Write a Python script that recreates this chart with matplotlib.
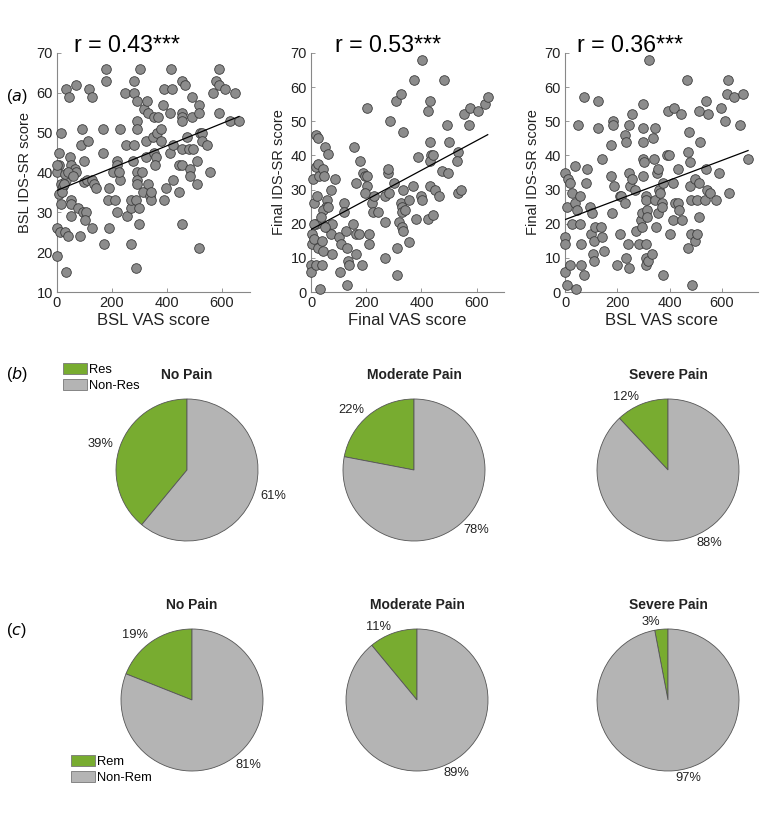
import matplotlib
matplotlib.use('Agg')
import matplotlib.pyplot as plt
import numpy as np
from matplotlib.patches import Patch

plt.rcParams['font.family'] = ['Liberation Sans', 'DejaVu Sans']

# scatter data: (VAS score, IDS-SR score)
bsl_points = [
    (16, 50), (7, 45), (7, 42), (0, 40), (0, 42), (13, 37), (7, 34.5), (13, 32), (0, 26), (12, 25),
    (28, 25), (40, 24), (1, 19), (34, 15), (32, 61), (44, 59), (68, 62), (117, 61), (129, 59), (92, 51),
    (86, 47), (114, 48), (46, 44), (52, 42), (65, 41), (68, 40), (99, 43), (97, 37.5), (109, 38), (129, 38),
    (135, 37), (141, 36), (52, 33), (52, 32), (77, 31), (95, 30), (105, 30), (101, 28), (52, 29), (83, 24),
    (129, 26), (34, 38), (22, 36.5), (28, 39.5), (20, 35), (25, 37), (40, 40), (60, 39),
    (178, 66), (178, 63), (167, 51), (167, 45), (190, 36), (184, 33), (190, 26), (172, 22), (211, 33), (219, 30),
    (229, 51), (217, 43), (217, 42), (205, 40), (229, 38), (225, 40), (247, 60), (253, 47), (256, 29), (271, 31),
    (269, 22), (271, 33), (277, 43), (281, 47), (281, 63), (281, 60), (292, 58), (290, 53), (293, 51), (290, 40),
    (292, 38), (292, 37), (288, 33), (299, 31), (299, 27), (288, 16), (304, 66), (311, 40), (314, 35), (316, 56),
    (328, 58), (330, 55), (326, 48), (326, 44), (331, 37), (337, 34), (344, 33), (344, 35), (355, 54), (368, 54),
    (350, 49), (363, 50), (353, 45), (359, 44), (356, 42), (379, 51), (379, 48), (389, 61), (387, 57), (391, 33),
    (397, 36), (411, 55), (411, 45), (416, 66), (420, 61), (421, 47), (423, 38), (444, 35), (445, 42), (454, 42),
    (456, 63), (466, 62), (454, 55), (454, 54), (454, 53), (456, 27), (457, 46), (475, 49), (482, 46), (490, 59),
    (493, 54), (484, 41), (484, 39), (494, 46), (511, 43), (516, 57), (518, 55), (511, 37), (518, 21), (521, 50),
    (529, 50), (529, 48), (548, 47), (557, 40), (567, 60), (578, 63), (590, 66), (590, 62), (590, 55), (613, 61),
    (647, 60), (630, 53), (663, 53),
]

final_points = [
    (17, 46), (27, 45), (8, 33), (17, 36.5), (24, 37.5), (29, 34), (45, 36), (47, 34), (51, 42.5), (61, 40.5),
    (11, 26), (18, 20), (5, 17), (2, 14), (11, 15.5), (27, 13), (39, 15), (45, 12), (0, 8), (0, 6),
    (17, 8), (39, 8), (33, 1), (57, 27), (54, 25), (42, 24), (63, 25), (72, 30), (87, 33), (59, 19),
    (71, 17), (75, 20), (75, 11), (103, 16), (109, 14), (121, 26), (121, 23.5), (126, 18), (132, 13), (135, 9),
    (139, 8), (129, 2), (105, 6), (10, 20), (20, 28), (35, 22), (50, 19),
    (156, 42.5), (162, 32), (153, 20), (162, 17), (174, 17), (163, 11), (183, 8), (178, 38.5), (187, 35), (196, 34),
    (202, 34), (202, 31), (196, 29), (204, 54), (210, 17), (210, 14), (220, 26), (226, 23.5), (229, 28), (244, 23.5),
    (268, 28), (268, 20.5), (268, 10), (278, 35), (278, 36), (286, 50), (283, 29), (300, 32), (307, 56), (325, 58),
    (310, 13), (310, 5), (320, 20.5), (326, 26), (328, 25), (328, 23.5), (331, 19), (332, 18), (334, 47), (332, 30),
    (340, 24), (356, 27), (356, 14.5), (368, 31), (374, 62), (382, 21.5), (389, 39.5), (397, 28), (401, 68), (401, 27),
    (425, 53), (431, 56), (431, 44), (434, 40), (431, 38.5), (431, 31), (425, 21.5), (441, 22.5), (441, 40), (449, 30),
    (465, 28), (473, 35.5), (480, 62), (492, 49), (495, 35), (501, 44), (534, 41), (530, 38.5), (534, 29), (542, 30),
    (555, 52), (573, 49), (576, 54), (605, 53), (630, 55), (640, 57),
]

bsl_final_points = [
    (0, 35), (13, 33), (18, 32), (9, 25), (1, 16), (1, 14), (1, 6), (9, 2), (18, 8), (41, 1),
    (26, 29), (37, 37), (40, 26), (44, 24), (28, 20), (56, 20), (59, 28), (60, 14), (50, 49), (73, 57),
    (63, 8), (73, 5), (79, 32), (84, 36), (95, 25), (104, 23), (101, 17), (108, 11), (112, 15), (112, 9),
    (114, 19), (125, 56), (127, 48), (141, 39), (138, 19), (141, 16), (150, 12), (176, 43), (176, 34), (179, 23),
    (184, 50), (184, 49), (186, 31), (199, 8), (210, 28), (212, 17), (216, 28), (229, 26), (231, 46), (235, 44),
    (242, 14), (244, 7), (233, 10), (245, 49), (245, 35), (248, 31), (258, 52), (257, 33), (267, 30), (271, 18),
    (284, 14), (289, 21), (293, 23), (295, 19), (297, 34), (297, 39), (297, 48), (297, 44), (299, 55), (302, 38),
    (308, 28), (308, 27), (312, 24), (312, 22), (310, 14), (308, 10), (310, 8), (316, 9), (322, 68), (331, 11),
    (335, 45), (341, 39), (345, 48), (344, 27), (347, 19), (350, 35), (354, 36), (359, 30), (354, 23), (363, 29),
    (369, 26), (372, 25), (374, 5), (376, 32), (390, 40), (393, 53), (399, 40), (402, 17), (412, 32), (412, 21),
    (415, 54), (421, 26), (431, 36), (434, 26), (436, 24), (443, 52), (447, 21), (468, 62), (470, 41), (470, 13),
    (474, 47), (478, 38), (478, 31), (482, 27), (484, 2), (482, 17), (498, 33), (505, 27), (511, 53), (513, 32),
    (513, 22), (517, 44), (498, 15), (506, 17), (540, 56), (545, 52), (540, 36), (542, 30), (536, 27), (555, 29),
    (578, 27), (587, 35), (596, 54), (610, 50), (625, 62), (621, 58), (629, 29), (645, 57), (668, 49), (681, 58),
    (700, 39),
]

# fitted lines: (intercept, slope)
fit_lines = [(35.5, 0.028), (18.3, 0.0434), (21.2, 0.0289)]
r_titles = ['r = 0.43***', 'r = 0.53***', 'r = 0.36***']
x_labels = ['BSL VAS score', 'Final VAS score', 'BSL VAS score']
y_labels = ['BSL IDS-SR score', 'Final IDS-SR score', 'Final IDS-SR score']

pain_groups = ['No Pain', 'Moderate Pain', 'Severe Pain']
res_pct = [39, 22, 12]
rem_pct = [19, 11, 3]

green = '#78ac30'
grey = '#b4b4b4'

fig = plt.figure(figsize=(7.61, 8.31), dpi=100)
W, H = 761.0, 831.0

scatter_sets = [bsl_points, final_points, bsl_final_points]
ax_lefts = [57, 311, 565]
title_x = [127, 388, 630]
x_maxes = [703, 699, 738]
y_mins = [10, 0, 0]
for i in range(3):
    ax = fig.add_axes([ax_lefts[i] / W, 1 - 292 / H, 193 / W, 239 / H])
    pts = np.array(scatter_sets[i], dtype=float)
    ax.scatter(pts[:, 0], pts[:, 1], s=48, facecolor='#8c8c8c', edgecolor='#3c3c3c',
               linewidth=0.6, zorder=3, clip_on=False)
    b0, b1 = fit_lines[i]
    xs = np.array([pts[:, 0].min(), pts[:, 0].max()])
    ax.plot(xs, b0 + b1 * xs, color='black', linewidth=0.9, zorder=4)
    ax.set_xlim(0, x_maxes[i])
    ax.set_ylim(y_mins[i], 70)
    ax.set_xticks([0, 200, 400, 600])
    ax.set_yticks(np.arange(y_mins[i], 71, 10))
    for side in ['top', 'right']:
        ax.spines[side].set_visible(False)
    for side in ['left', 'bottom']:
        ax.spines[side].set_color('#888888')
        ax.spines[side].set_linewidth(0.8)
    ax.tick_params(direction='in', length=3, width=0.6, color='#888888',
                   labelsize=10.5, labelcolor='#222222', pad=3)
    ax.set_xlabel(x_labels[i], fontsize=12, color='#222222', labelpad=2)
    ax.set_ylabel(y_labels[i], fontsize=10.5, color='#222222', labelpad=3)
    fig.text(title_x[i] / W, 1 - 46 / H, r_titles[i], fontsize=16.7, ha='center', va='center')

# pies
radius = 71
rows = [(470, [187, 414, 668], res_pct, ['Res', 'Non-Res']),
        (700, [192, 417, 668], rem_pct, ['Rem', 'Non-Rem'])]
for r, (cy, pie_x, pcts, names) in enumerate(rows):
    for j in range(3):
        size = 2.6 * radius
        cx = pie_x[j]
        ax = fig.add_axes([(cx - size / 2) / W, 1 - (cy + size / 2) / H, size / W, size / H])
        vals = [pcts[j], 100 - pcts[j]]
        ax.pie(vals, colors=[green, grey], startangle=90, counterclock=True,
               labels=['%d%%' % v for v in vals], labeldistance=1.1,
               wedgeprops=dict(edgecolor='#555555', linewidth=0.6),
               textprops=dict(fontsize=9.3, color='#222222'))
        ax.set_xlim(-1.3, 1.3)
        ax.set_ylim(-1.3, 1.3)
        ax.set_aspect('equal')
        fig.text(cx / W, 1 - (cy - radius - 24) / H, pain_groups[j], ha='center',
                 va='center', fontsize=10, fontweight='bold', color='#222222')
        if j == 0:
            handles = [Patch(facecolor=green, edgecolor='#777777', linewidth=0.6),
                       Patch(facecolor=grey, edgecolor='#777777', linewidth=0.6)]
            if r == 0:
                anchor = (63 / W, 1 - 363 / H)
            else:
                anchor = (71 / W, 1 - 755 / H)
            fig.legend(handles, names, loc='upper left', bbox_to_anchor=anchor,
                       frameon=False, fontsize=9.3, handlelength=1.85, handleheight=0.95,
                       handletextpad=0.15, labelspacing=0.2, borderpad=0, borderaxespad=0)

# panel letters
fig.text(6 / W, 1 - 97 / H, r'($\mathit{a}$)', fontsize=11.5, va='center')
fig.text(6 / W, 1 - 374 / H, r'($\mathit{b}$)', fontsize=11.5, va='center')
fig.text(6 / W, 1 - 631 / H, r'($\mathit{c}$)', fontsize=11.5, va='center')

fig.savefig('out.png', dpi=100)
